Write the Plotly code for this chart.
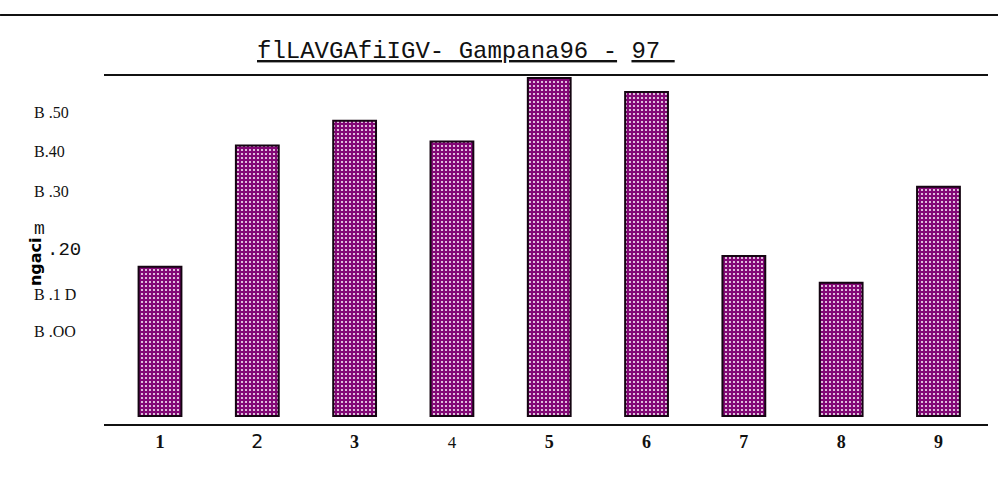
import plotly.graph_objects as go

# Bar heights per item (axis units)
items = [1, 2, 3, 4, 5, 6, 7, 8, 9]
values = [0.373, 0.676, 0.738, 0.686, 0.845, 0.810, 0.400, 0.333, 0.573]

# Category labels under the bars
x_labels = ["1", "2", "3", "4", "5", "6", "7", "8", "9"]

# Value scale labels on the left and where they sit on the value axis
y_labels = ["B .50", "B.40", "B .30", ".20", "B .1 D", "B .OO"]
y_label_vals = [0.759, 0.6625, 0.5625, 0.415, 0.305, 0.211]

title_text = "flLAVGAfiIGV- Gampana96 - 97"
axis_word = "ngaci"

# Per-label typography for the category labels
x_label_styles = [
    "font-family:'Liberation Serif';font-size:19px;font-weight:bold",
    "font-family:'DejaVu Sans';font-size:19px",
    "font-family:'Liberation Serif';font-size:18px;font-weight:bold",
    "font-family:'Liberation Serif';font-size:17px",
    "font-family:'Liberation Serif';font-size:18px;font-weight:bold",
    "font-family:'Liberation Serif';font-size:18px;font-weight:bold",
    "font-family:'Liberation Serif';font-size:18px;font-weight:bold",
    "font-family:'Liberation Serif';font-size:18px;font-weight:bold",
    "font-family:'Liberation Serif';font-size:18px;font-weight:bold",
]
y_label_fonts = [
    dict(family="Liberation Serif", size=16, color="#111"),
    dict(family="Liberation Serif", size=16, color="#111"),
    dict(family="Liberation Serif", size=16, color="#111"),
    dict(family="Liberation Mono", size=19, color="#111"),
    dict(family="Liberation Serif", size=16, color="#111"),
    dict(family="Liberation Serif", size=16, color="#111"),
]
y_label_x = [-0.0814, -0.0814, -0.0814, -0.0667, -0.0814, -0.0814]

fig = go.Figure()
fig.add_trace(go.Bar(
    x=items,
    y=values,
    width=0.44,
    marker=dict(
        color="#820775",
        line=dict(color="#150512", width=2),
        pattern=dict(shape=".", bgcolor="#820775", fgcolor="#f6e8f4",
                     size=4, solidity=0.22, fillmode="replace"),
    ),
    hoverinfo="x+y",
))

annotations = []
for txt, v, f, xp in zip(y_labels, y_label_vals, y_label_fonts, y_label_x):
    annotations.append(dict(text=txt, x=xp, xref="paper", y=v, yref="y",
                            xanchor="left", yanchor="middle", showarrow=False,
                            font=f))
# stray mark above the ".20" label
annotations.append(dict(text="m", x=-0.0814, xref="paper", y=0.4675, yref="y",
                        xanchor="left", yanchor="middle", showarrow=False,
                        font=dict(family="Liberation Mono", size=18, color="#111")))
# rotated axis word
annotations.append(dict(text="<b>" + axis_word + "</b>", x=-0.0780, xref="paper",
                        y=0.385, yref="y", xanchor="center", yanchor="middle",
                        textangle=-90, showarrow=False,
                        font=dict(family="DejaVu Sans", size=16, color="#000")))
# chart title with underlines
annotations.append(dict(
    text="<u>" + title_text[:25] + "</u>" + title_text[25] + "<u>" + title_text[26:] + "&nbsp;</u>",
    x=0.1708, xref="paper", y=1.069, yref="paper",
    xanchor="left", yanchor="middle", showarrow=False,
    font=dict(family="Liberation Mono", size=24, color="#111"),
))

fig.update_layout(
    width=998, height=485,
    margin=dict(l=104, r=10, t=76, b=61),
    paper_bgcolor="white", plot_bgcolor="white",
    showlegend=False,
    annotations=annotations,
    shapes=[dict(type="line", xref="paper", yref="paper",
                 x0=-0.1176, x1=1.0113, y0=1.1753, y1=1.1753,
                 line=dict(color="#111", width=2))],
    xaxis=dict(
        range=[0.4245, 9.509],
        tickvals=items,
        ticktext=[f"<span style=\"{s}\">{t}</span>" for s, t in zip(x_label_styles, x_labels)],
        showline=True, linecolor="#111", linewidth=2, mirror=True,
        showgrid=False, zeroline=False, ticks="",
        tickfont=dict(family="Liberation Serif", size=18, color="#111"),
    ),
    yaxis=dict(
        range=[-0.02, 0.85],
        showticklabels=False, showgrid=False, zeroline=False,
        showline=False, ticks="",
    ),
)

fig.write_html("out.html")
